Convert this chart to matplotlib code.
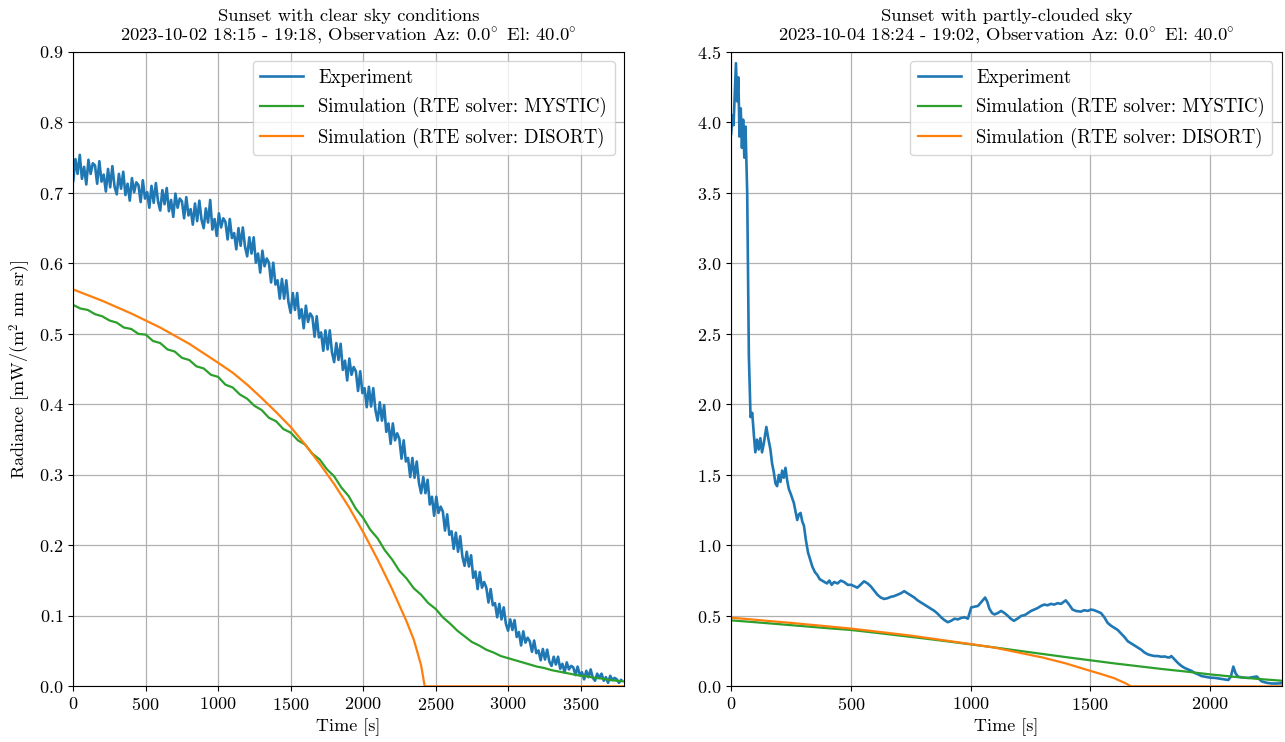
import numpy as np
import matplotlib
matplotlib.use('Agg')
import matplotlib.pyplot as plt

plt.rcParams['font.family'] = 'serif'
plt.rcParams['font.serif'] = ['cmr10']
plt.rcParams['mathtext.fontset'] = 'cm'
plt.rcParams['axes.formatter.use_mathtext'] = True
plt.rcParams['font.size'] = 13

# --- left panel: clear sky, 2023-10-02 (experiment sampled every 15 s) ---
clear_exp = [
    0.717, 0.748, 0.727, 0.754, 0.720, 0.737, 0.712, 0.747, 0.727, 0.742,
    0.739, 0.713, 0.745, 0.716, 0.726, 0.702, 0.734, 0.708, 0.738, 0.709,
    0.698, 0.727, 0.706, 0.730, 0.697, 0.713, 0.689, 0.721, 0.701, 0.715,
    0.711, 0.687, 0.718, 0.692, 0.701, 0.679, 0.710, 0.686, 0.714, 0.688,
    0.675, 0.704, 0.684, 0.707, 0.674, 0.690, 0.666, 0.699, 0.679, 0.692,
    0.688, 0.664, 0.694, 0.668, 0.677, 0.655, 0.685, 0.660, 0.689, 0.662,
    0.650, 0.678, 0.658, 0.690, 0.648, 0.663, 0.639, 0.671, 0.651, 0.664,
    0.659, 0.634, 0.663, 0.636, 0.643, 0.620, 0.650, 0.625, 0.651, 0.624,
    0.610, 0.637, 0.614, 0.637, 0.601, 0.614, 0.587, 0.618, 0.596, 0.607,
    0.601, 0.573, 0.601, 0.570, 0.576, 0.550, 0.578, 0.550, 0.576, 0.545,
    0.530, 0.558, 0.534, 0.558, 0.522, 0.535, 0.508, 0.540, 0.517, 0.529,
    0.524, 0.496, 0.525, 0.495, 0.502, 0.476, 0.505, 0.478, 0.505, 0.474,
    0.460, 0.487, 0.463, 0.486, 0.449, 0.462, 0.434, 0.465, 0.442, 0.453,
    0.447, 0.419, 0.447, 0.416, 0.423, 0.396, 0.425, 0.397, 0.423, 0.392,
    0.377, 0.403, 0.377, 0.399, 0.361, 0.373, 0.344, 0.373, 0.349, 0.359,
    0.351, 0.323, 0.349, 0.319, 0.324, 0.297, 0.324, 0.296, 0.319, 0.289,
    0.274, 0.297, 0.274, 0.293, 0.258, 0.269, 0.242, 0.269, 0.246, 0.255,
    0.248, 0.221, 0.244, 0.215, 0.220, 0.195, 0.218, 0.191, 0.213, 0.184,
    0.171, 0.191, 0.170, 0.186, 0.154, 0.163, 0.138, 0.162, 0.140, 0.148,
    0.140, 0.119, 0.138, 0.115, 0.118, 0.098, 0.117, 0.095, 0.112, 0.089,
    0.079, 0.095, 0.080, 0.094, 0.070, 0.077, 0.058, 0.078, 0.062, 0.069,
    0.064, 0.049, 0.065, 0.047, 0.051, 0.037, 0.053, 0.038, 0.052, 0.035,
    0.029, 0.042, 0.031, 0.042, 0.025, 0.032, 0.020, 0.034, 0.024, 0.029,
    0.027, 0.016, 0.028, 0.016, 0.020, 0.010, 0.022, 0.013, 0.024, 0.012,
    0.008, 0.018, 0.012, 0.018, 0.008, 0.013, 0.005, 0.015, 0.009, 0.012,
    0.010, 0.005, 0.009,
]
clear_exp_time = np.arange(len(clear_exp)) * 15

# MYSTIC, every 50 s
clear_mystic = [
    0.541, 0.536, 0.534, 0.528, 0.525, 0.519, 0.516, 0.509, 0.507, 0.500,
    0.499, 0.490, 0.487, 0.478, 0.475, 0.466, 0.463, 0.454, 0.451, 0.442,
    0.439, 0.428, 0.424, 0.414, 0.408, 0.398, 0.392, 0.381, 0.376, 0.365,
    0.360, 0.349, 0.343, 0.330, 0.322, 0.308, 0.298, 0.282, 0.270, 0.252,
    0.239, 0.222, 0.210, 0.193, 0.180, 0.164, 0.153, 0.139, 0.130, 0.118,
    0.110, 0.098, 0.089, 0.079, 0.071, 0.063, 0.058, 0.052, 0.048, 0.043,
    0.040, 0.037, 0.034, 0.031, 0.028, 0.026, 0.023, 0.021, 0.019, 0.017,
    0.015, 0.014, 0.012, 0.011, 0.009, 0.008, 0.007,
]
clear_mystic_time = np.arange(len(clear_mystic)) * 50

clear_disort_time = [0, 200, 400, 600, 800, 1000, 1100, 1200, 1300, 1400, 1500,
                     1600, 1700, 1800, 1900, 2000, 2100, 2200, 2300, 2350, 2400,
                     2425, 3800]
clear_disort = [0.563, 0.547, 0.529, 0.509, 0.486, 0.459, 0.445, 0.428, 0.409,
                0.389, 0.368, 0.343, 0.316, 0.287, 0.255, 0.219, 0.180, 0.138,
                0.092, 0.066, 0.030, 0.0, 0.0]

# --- right panel: partly clouded, 2023-10-04 ---
cloud_exp_time = [
    0, 5, 10, 15, 20, 25, 30, 35, 40, 45, 50, 55, 60, 67, 74, 81, 88, 95,
    101, 108, 115, 122, 129, 136, 147, 155, 164, 171, 178, 185, 192, 199,
    206, 213, 220, 227, 234, 241, 250, 262, 269, 276, 283, 290, 297, 304,
    312, 321, 330, 339, 350, 360, 370, 380, 390, 400, 410, 420, 430, 444,
    458, 472, 487, 502, 515, 527, 540, 555, 570, 583, 597, 611, 625, 639,
    653, 667, 681, 695, 709, 723, 737, 751, 765, 779, 793, 807, 821, 835,
    849, 863, 877, 891, 905, 919, 933, 947, 961, 975, 989, 1003, 1017, 1031,
    1046, 1061, 1070, 1079, 1090, 1100, 1114, 1128, 1142, 1156, 1168, 1181,
    1196, 1212, 1226, 1240, 1253, 1266, 1280, 1294, 1308, 1322, 1336, 1350,
    1364, 1378, 1390, 1398, 1412, 1426, 1440, 1461, 1475, 1490, 1503, 1517,
    1531, 1545, 1559, 1573, 1587, 1601, 1615, 1629, 1643, 1657, 1671, 1685,
    1699, 1713, 1727, 1741, 1755, 1769, 1783, 1797, 1811, 1825, 1832, 1839,
    1853, 1867, 1881, 1895, 1909, 1923, 1937, 1951, 1965, 1980, 2000, 2021,
    2040, 2060, 2077, 2088, 2098, 2108, 2119, 2140, 2161, 2180, 2196, 2207,
    2217, 2238, 2259, 2280, 2300,
]
cloud_exp = [
    3.92, 4.05, 3.98, 4.20, 4.42, 4.15, 4.32, 3.90, 4.10, 3.82, 4.02, 3.75, 3.97, 3.50, 2.34, 1.91, 1.94, 1.78,
    1.66, 1.75, 1.68, 1.76, 1.66, 1.72, 1.84, 1.76, 1.68, 1.58, 1.52, 1.44, 1.42, 1.50,
    1.45, 1.53, 1.48, 1.55, 1.46, 1.40, 1.36, 1.30, 1.24, 1.18, 1.22, 1.23, 1.17, 1.14,
    1.04, 0.95, 0.90, 0.85, 0.81, 0.79, 0.76, 0.75, 0.74, 0.73, 0.75, 0.72, 0.74, 0.73,
    0.75, 0.74, 0.72, 0.72, 0.71, 0.70, 0.72, 0.745, 0.73, 0.71, 0.68, 0.65, 0.63, 0.62,
    0.625, 0.635, 0.64, 0.65, 0.66, 0.675, 0.66, 0.645, 0.63, 0.61, 0.595, 0.58, 0.565, 0.55,
    0.535, 0.515, 0.49, 0.47, 0.455, 0.465, 0.48, 0.475, 0.485, 0.49, 0.48, 0.56, 0.565, 0.57,
    0.60, 0.63, 0.60, 0.55, 0.52, 0.51, 0.52, 0.535, 0.52, 0.50, 0.48, 0.465,
    0.48, 0.50, 0.505, 0.52, 0.535, 0.545, 0.555, 0.57, 0.58, 0.575, 0.585, 0.58,
    0.59, 0.585, 0.60, 0.61, 0.58, 0.545, 0.535, 0.53, 0.54, 0.535, 0.545, 0.54,
    0.53, 0.52, 0.49, 0.45, 0.43, 0.415, 0.40, 0.375, 0.35, 0.32, 0.305, 0.29,
    0.275, 0.26, 0.24, 0.227, 0.22, 0.215, 0.215, 0.21, 0.212, 0.205, 0.205, 0.215,
    0.19, 0.165, 0.145, 0.13, 0.12, 0.11, 0.095, 0.085, 0.073, 0.068, 0.062, 0.06,
    0.055, 0.05, 0.045, 0.07, 0.14, 0.09, 0.068, 0.062, 0.06, 0.065, 0.07, 0.05,
    0.035, 0.025, 0.02, 0.02, 0.022,
]

cloud_mystic = [
    0.468, 0.455, 0.441, 0.427, 0.413, 0.400, 0.381, 0.361, 0.341, 0.320,
    0.298, 0.276, 0.253, 0.230, 0.207, 0.185, 0.163, 0.143, 0.123, 0.105,
    0.085, 0.068, 0.053, 0.040,
]
cloud_mystic_time = np.arange(len(cloud_mystic)) * 100

cloud_disort_time = [0, 250, 500, 750, 1000, 1100, 1200, 1300, 1400, 1500,
                     1550, 1600, 1650, 1670, 2300]
cloud_disort = [0.487, 0.450, 0.410, 0.360, 0.300, 0.275, 0.240, 0.205, 0.162,
                0.110, 0.085, 0.058, 0.020, 0.0, 0.0]

deg = '$\\!^\\circ$'

fig = plt.figure(figsize=(12.85, 7.42), dpi=100)
ax1 = fig.add_axes([0.057, 0.075, 0.4286, 0.855])
ax2 = fig.add_axes([0.569, 0.075, 0.4284, 0.855])

panels = [
    (ax1, clear_exp_time, clear_exp, clear_mystic_time, clear_mystic,
     clear_disort_time, clear_disort, 3800, 0.9,
     'Sunset with clear sky conditions\n2023-10-02 18:15 - 19:18, '
     'Observation Az: 0.0' + deg + ' El: 40.0' + deg),
    (ax2, cloud_exp_time, cloud_exp, cloud_mystic_time, cloud_mystic,
     cloud_disort_time, cloud_disort, 2300, 4.5,
     'Sunset with partly-clouded sky\n2023-10-04 18:24 - 19:02, '
     'Observation Az: 0.0' + deg + ' El: 40.0' + deg),
]

for ax, te, ye, tm, ym, td, yd, xmax, ymax, title in panels:
    ax.plot(te, ye, color='tab:blue', lw=1.9, label='Experiment')
    ax.plot(tm, ym, color='tab:green', lw=1.6, label='Simulation (RTE solver: MYSTIC)')
    ax.plot(td, yd, color='tab:orange', lw=1.6, label='Simulation (RTE solver: DISORT)')
    ax.set_xlim(0, xmax)
    ax.set_ylim(0, ymax)
    ax.grid(True, color='#b0b0b0', lw=0.9)
    ax.set_xlabel('Time [s]')
    ax.set_title(title, fontsize=13.4, linespacing=1.1, pad=8)
    ax.legend(loc='upper right', fontsize=13.5, handlelength=2.3, labelspacing=0.55)

ax1.set_ylabel('Radiance [mW/(m$^2$ nm sr)]')

fig.savefig('out.png', dpi=100)
